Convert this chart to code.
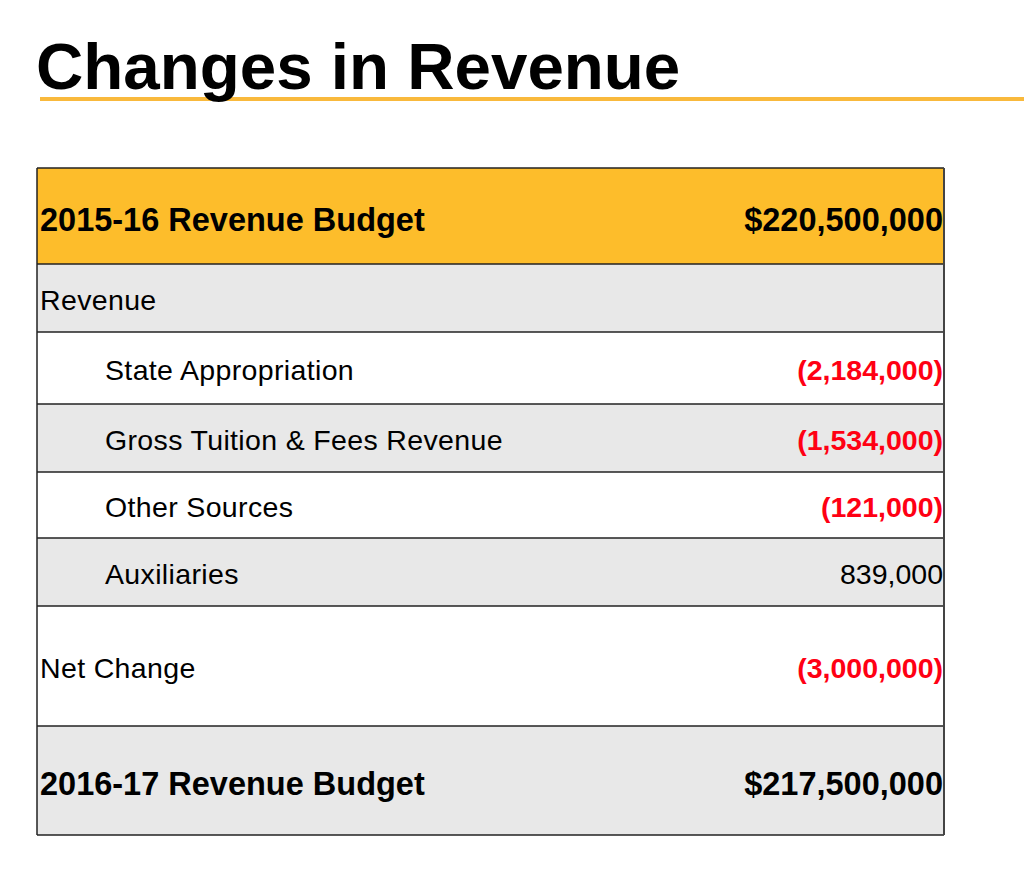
<!DOCTYPE html>
<html>
<head>
<meta charset="utf-8">
<script src="https://cdn.jsdelivr.net/npm/d3@7"></script>
<style>
  body { margin: 0; background: #fff; }
  svg text { font-family: "Liberation Sans", Arial, Helvetica, sans-serif; }
</style>
</head>
<body>
<div id="chart"></div>
<script>
// table content
const titleText = "Changes in Revenue";
const rowLabels = [
  "2015-16 Revenue Budget",
  "Revenue",
  "State Appropriation",
  "Gross Tuition & Fees Revenue",
  "Other Sources",
  "Auxiliaries",
  "Net Change",
  "2016-17 Revenue Budget",
];
const rowValues = [220500000, null, -2184000, -1534000, -121000, 839000, -3000000, 217500000];
const rowKinds = ["budget", "section", "item", "item", "item", "item", "net", "budget"];

function drawTable() {
  let width = 1024,
    height = 873;

  // layout
  let left = 37,
    right = 944,
    top = 168;
  let rowHeights = [96, 68, 72, 68, 66, 68, 120, 109];

  let tops = [top].concat(Array.from(d3.cumsum(rowHeights)).map((d) => top + d));
  let bottom = tops[tops.length - 1];

  let fmt = d3.format(",");
  let valueText = function (v, kind) {
    if (v == null) return "";
    if (kind == "budget") return "$" + fmt(v);
    return v < 0 ? "(" + fmt(-v) + ")" : fmt(v);
  };

  let fillFor = function (kind, i) {
    if (i == 0) return "#fdbd2b";
    return i % 2 == 1 ? "#e8e8e8" : "#ffffff";
  };

  let svg = d3
    .select("#chart")
    .append("svg")
    .attr("width", width)
    .attr("height", height);

  // title underline first, so the descender sits on top of it
  svg
    .append("rect")
    .attr("x", 40)
    .attr("y", 97)
    .attr("width", width - 40)
    .attr("height", 4)
    .attr("fill", "#f9b93c");

  svg
    .append("text")
    .attr("x", 36)
    .attr("y", 89)
    .style("font-size", "65.5px")
    .style("font-weight", "bold")
    .attr("fill", "#000")
    .text(titleText);

  let rows = svg
    .selectAll(".row")
    .data(rowLabels)
    .enter()
    .append("g")
    .attr("class", "row")
    .attr("transform", (d, i) => "translate(0," + tops[i] + ")");

  rows
    .append("rect")
    .attr("x", left)
    .attr("y", 0)
    .attr("width", right - left)
    .attr("height", (d, i) => rowHeights[i])
    .attr("fill", (d, i) => fillFor(rowKinds[i], i));

  let fontSize = (i) => (rowKinds[i] == "budget" ? 32.5 : 28.5);
  let baseline = (i) => rowHeights[i] / 2 + (rowKinds[i] == "budget" ? 3 : 2) + 0.358 * fontSize(i);

  rows
    .append("text")
    .attr("x", (d, i) => (rowKinds[i] == "item" ? 105 : 40))
    .attr("y", (d, i) => baseline(i))
    .style("font-size", (d, i) => fontSize(i) + "px")
    .style("font-weight", (d, i) => (rowKinds[i] == "budget" ? "bold" : "normal"))
    .style("letter-spacing", (d, i) => (rowKinds[i] == "budget" ? "0px" : "0.35px"))
    .attr("fill", "#000")
    .text((d) => d);

  rows
    .append("text")
    .attr("x", right - 1)
    .attr("y", (d, i) => baseline(i))
    .style("text-anchor", "end")
    .style("font-size", (d, i) => fontSize(i) + "px")
    .style("font-weight", (d, i) =>
      rowKinds[i] == "budget" || rowValues[i] < 0 ? "bold" : "normal"
    )
    .attr("fill", (d, i) => (rowValues[i] < 0 ? "#ff0013" : "#000"))
    .text((d, i) => valueText(rowValues[i], rowKinds[i]));

  // grid lines
  svg
    .selectAll(".hline")
    .data(tops)
    .enter()
    .append("line")
    .attr("class", "hline")
    .attr("x1", left)
    .attr("x2", right)
    .attr("y1", (d) => d)
    .attr("y2", (d) => d)
    .attr("stroke", "#222")
    .attr("stroke-width", 1.5);

  svg
    .append("line")
    .attr("x1", left)
    .attr("x2", left)
    .attr("y1", top)
    .attr("y2", bottom)
    .attr("stroke", "#222")
    .attr("stroke-width", 1.5);

  svg
    .append("line")
    .attr("x1", right)
    .attr("x2", right)
    .attr("y1", top)
    .attr("y2", bottom)
    .attr("stroke", "#444")
    .attr("stroke-width", 2);
}

drawTable();
</script>
</body>
</html>
